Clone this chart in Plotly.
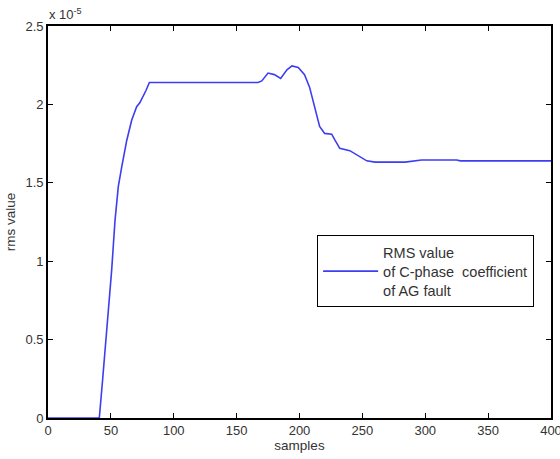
import plotly.graph_objects as go

# samples and rms value (in units of 1e-5)
samples = [0, 40.8, 43.5, 46.7, 50.6, 53.3, 55.9, 58.6, 62.6, 66.6, 70.5, 73, 75.8, 78, 80.6,
           120, 167, 170, 175, 180, 185, 190, 194, 199, 204, 208, 212, 216,
           220, 225.6, 228, 232, 240, 247, 253.5, 260, 284, 297, 325, 328, 400]
rms = [0, 0, 0.25, 0.56, 0.94, 1.26, 1.475, 1.6, 1.77, 1.9, 1.985, 2.01, 2.05, 2.09, 2.14,
       2.14, 2.14, 2.15, 2.2, 2.19, 2.165, 2.22, 2.245, 2.235, 2.19, 2.11, 1.985, 1.86,
       1.815, 1.81, 1.775, 1.72, 1.705, 1.67, 1.64, 1.632, 1.632, 1.645, 1.645, 1.64, 1.64]

x_ticks = [0, 50, 100, 150, 200, 250, 300, 350, 400]
y_ticks = [0, 0.5, 1, 1.5, 2, 2.5]
y_ticklabels = ["0", "0.5", "1", "1.5", "2", "2.5"]
series_name = "RMS value<br>of C-phase  coefficient<br>of AG fault"

FAM = "Liberation Sans, Arial, sans-serif"
tick_font = dict(family=FAM, size=13, color="#333")
title_font = dict(family=FAM, size=13.5, color="#333")

fig = go.Figure()
fig.add_trace(go.Scatter(x=samples, y=rms, mode="lines", name=series_name,
                         line=dict(color="#3d3df2", width=1.6)))

axis_common = dict(showline=True, linecolor="black", linewidth=1.6, mirror="ticks",
                   ticks="inside", ticklen=5, tickcolor="black", tickwidth=1,
                   showgrid=False, zeroline=False, tickfont=tick_font, automargin=False,
                   ticklabeloverflow="allow")

fig.update_layout(
    width=560, height=459,
    margin=dict(l=48, r=9, t=26, b=41),
    paper_bgcolor="white", plot_bgcolor="white",
    font=tick_font,
    showlegend=True,
    legend=dict(x=0.535, y=0.466, xanchor="left", yanchor="top",
                bordercolor="black", borderwidth=1, bgcolor="white",
                font=dict(family=FAM, size=14.5, color="#333"),
                itemwidth=55, tracegroupgap=0),
    xaxis=dict(range=[0, 400], tickvals=x_ticks,
               title=dict(text="samples", font=title_font, standoff=3), **axis_common),
    yaxis=dict(range=[0, 2.5], tickvals=y_ticks, ticktext=y_ticklabels,
               title=dict(text="rms value", font=title_font, standoff=7), **axis_common),
    annotations=[dict(text="x 10<sup>-5</sup>", xref="paper", yref="paper",
                      x=0, y=1, xanchor="left", yanchor="bottom", showarrow=False,
                      font=dict(family=FAM, size=13, color="#333"), xshift=-1, yshift=2)],
)

fig.write_html("out.html")
